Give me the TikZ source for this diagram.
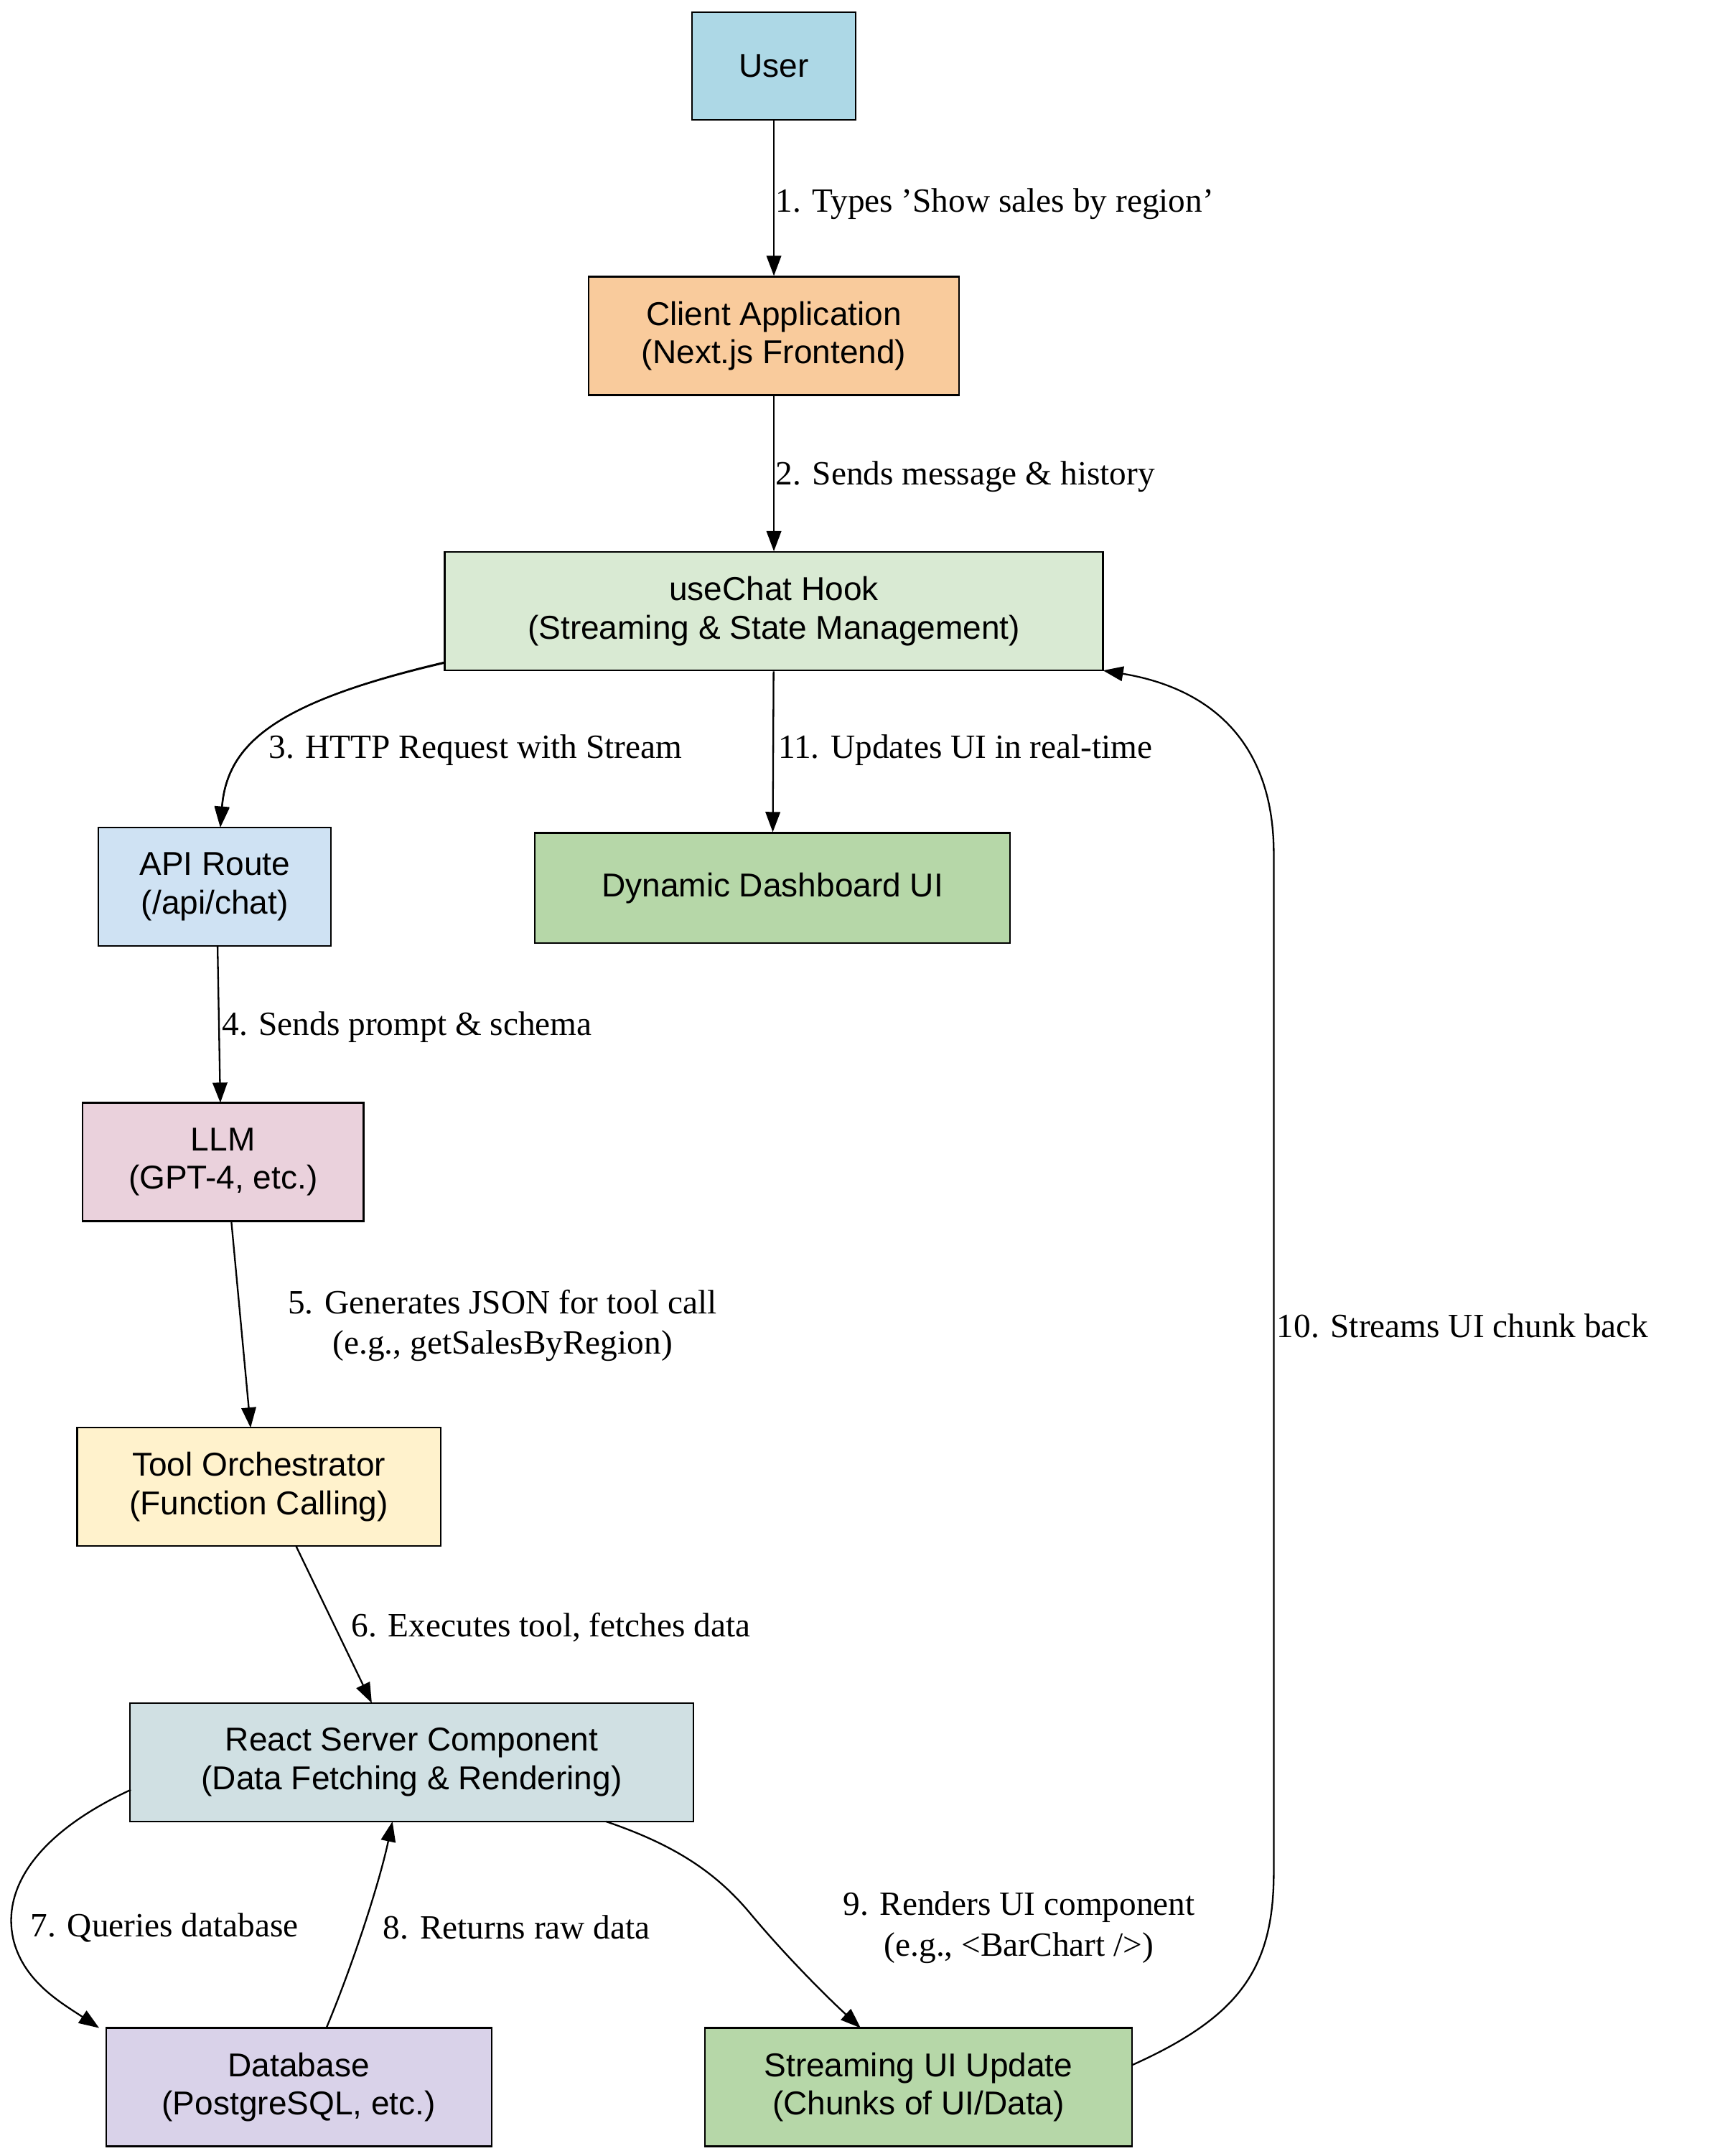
\documentclass[tikz,border=0pt]{standalone}
\usepackage{fontspec}
\setmainfont{Liberation Serif}
\setsansfont{Liberation Sans}
\usetikzlibrary{arrows.meta}
\definecolor{cUser}{HTML}{ADD8E6}
\definecolor{cClient}{HTML}{F9CB9C}
\definecolor{cHook}{HTML}{D9EAD3}
\definecolor{cApi}{HTML}{CFE2F3}
\definecolor{cGreen}{HTML}{B6D7A8}
\definecolor{cLlm}{HTML}{EAD1DC}
\definecolor{cTool}{HTML}{FFF2CC}
\definecolor{cRsc}{HTML}{D0E0E3}
\definecolor{cDb}{HTML}{D9D2E9}
\begin{document}
\begin{tikzpicture}[x=0.75pt,y=-0.75pt,
  box/.style={draw,line width=0.9pt,font=\sffamily\fontsize{18}{21}\selectfont,align=center,inner sep=0pt},
  lab/.style={font=\fontsize{18.5}{22}\selectfont,inner sep=0pt,align=center},
  e/.style={line width=0.9pt,-{Triangle[length=11pt,width=8pt]}}]
\useasboundingbox (0,0) rectangle (1256,1566);
\node[box,fill=cUser,minimum width=119*0.75pt,minimum height=78*0.75pt] (user) at (562,48) {User};
\node[box,fill=cClient,minimum width=269*0.75pt,minimum height=86*0.75pt] (client) at (562,244) {Client Application\\(Next.js Frontend)};
\node[box,fill=cHook,minimum width=478*0.75pt,minimum height=86*0.75pt] (hook) at (562,444) {useChat Hook\\(Streaming \& State Management)};
\node[box,fill=cApi,minimum width=169*0.75pt,minimum height=86*0.75pt] (api) at (156,644) {API Route\\(/api/chat)};
\node[box,fill=cGreen,minimum width=345*0.75pt,minimum height=80*0.75pt] (dash) at (561,645) {Dynamic Dashboard UI};
\node[box,fill=cLlm,minimum width=204*0.75pt,minimum height=86*0.75pt] (llm) at (162,844) {LLM\\(GPT-4, etc.)};
\node[box,fill=cTool,minimum width=264*0.75pt,minimum height=86*0.75pt] (tool) at (188,1080) {Tool Orchestrator\\(Function Calling)};
\node[box,fill=cRsc,minimum width=409*0.75pt,minimum height=86*0.75pt] (rsc) at (299,1280) {React Server Component\\(Data Fetching \& Rendering)};
\node[box,fill=cDb,minimum width=280*0.75pt,minimum height=86*0.75pt] (db) at (217,1516) {Database\\(PostgreSQL, etc.)};
\node[box,fill=cGreen,minimum width=310*0.75pt,minimum height=86*0.75pt] (stream) at (667,1516) {Streaming UI Update\\(Chunks of UI/Data)};

\draw[e] (user) -- (client) node[lab,anchor=west,pos=0.5] at (563,148) {};
\node[lab,anchor=west] (l1) at (563,148) {1. Types 'Show sales by region'};
\draw[e] (client) -- (hook);
\node[lab,anchor=west] (l2) at (563,346) {2. Sends message \& history};
\draw[e] (hook.south west) ++(0,-6) coordinate (h3) (h3) .. controls (200,510) and (165,540) .. (api.north -| 160,0);
\draw[e] (323,481) .. controls (200,510) and (165,540) .. (160,601);
\node[lab,anchor=west] (l3) at (195,545) {3. HTTP Request with Stream};
\draw[e] (hook) -- (dash);
\node[lab,anchor=west] (l11) at (565,545) {11. Updates UI in real-time};
\draw[e] (158,687) -- (160,801);
\node[lab,anchor=west] (l4) at (161,746) {4. Sends prompt \& schema};
\draw[e] (168,887) -- (182,1037);
\node[lab] (l5) at (365,963) {5. Generates JSON for tool call\\(e.g., getSalesByRegion)};
\draw[e] (215,1123) -- (270,1237);
\node[lab,anchor=west] (l6) at (255,1182) {6. Executes tool, fetches data};
\draw[e] (95,1300) .. controls (30,1330) and (0,1370) .. (10,1410) .. controls (18,1440) and (45,1455) .. (72,1473);
\node[lab,anchor=west] (l7) at (22,1400) {7. Queries database};
\draw[e] (237,1473) .. controls (255,1430) and (275,1370) .. (285,1323);
\node[lab,anchor=west] (l8) at (278,1400) {8. Returns raw data};
\draw[e] (440,1323) .. controls (490,1340) and (520,1360) .. (545,1390) .. controls (570,1420) and (600,1450) .. (625,1473);
\node[lab] (l9) at (740,1400) {9. Renders UI component\\(e.g., <BarChart />)};
\draw[e] (822,1500) .. controls (900,1465) and (925,1430) .. (925,1360) -- (925,620) .. controls (925,540) and (880,500) .. (801,487);
\node[lab,anchor=west] (l10) at (927,963) {10. Streams UI chunk back};
\end{tikzpicture}
\end{document}
